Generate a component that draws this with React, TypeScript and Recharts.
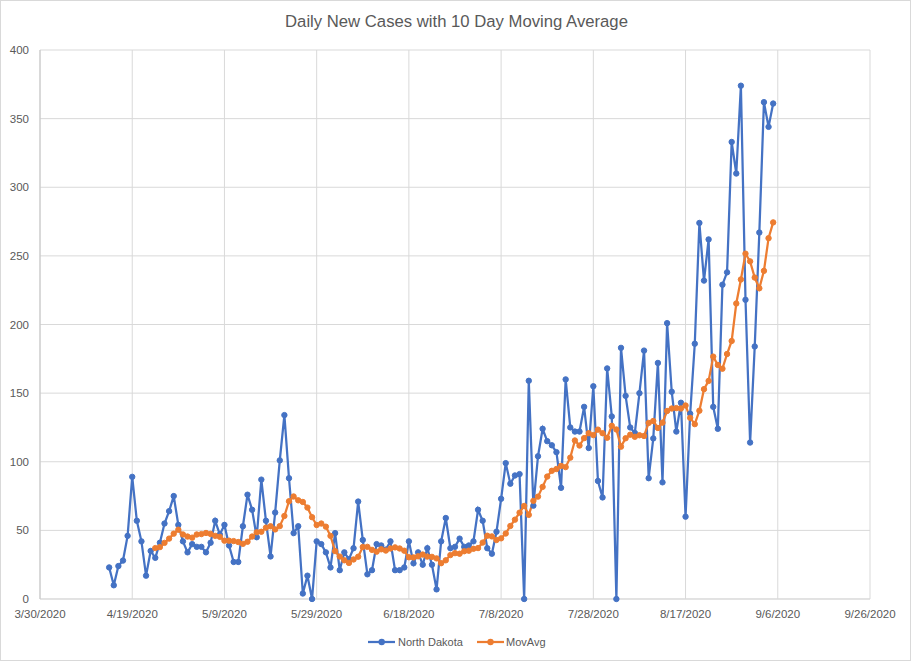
import React from 'react';
import { LineChart, Line, XAxis, YAxis, CartesianGrid } from 'recharts';

const chartTitle = 'Daily New Cases with 10 Day Moving Average';
const seriesNames = ['North Dakota', 'MovAvg'];
const firstDate = '4/14/2020';
const movAvgFirstDate = '4/24/2020';
const xTickLabels = ['3/30/2020', '4/19/2020', '5/9/2020', '5/29/2020', '6/18/2020', '7/8/2020', '7/28/2020', '8/17/2020', '9/6/2020', '9/26/2020'];
const yTicks = [0, 50, 100, 150, 200, 250, 300, 350, 400];

const northDakota = [
  23, 10, 24, 28, 46, 89, 57, 42, 17, 35,
  30, 41, 55, 64, 75, 54, 42, 34, 40, 38,
  38, 34, 41, 57, 47, 54, 39, 27, 27, 53,
  76, 65, 45, 87, 57, 31, 63, 101, 134, 88,
  48, 53, 4, 17, 0, 42, 40, 34, 23, 48,
  21, 34, 29, 37, 71, 43, 18, 21, 40, 39,
  36, 42, 21, 21, 23, 42, 26, 34, 25, 37,
  25, 7, 42, 59, 37, 38, 44, 38, 39, 42,
  65, 57, 37, 33, 49, 73, 99, 84, 90, 91,
  0, 159, 68, 104, 124, 115, 112, 107, 81, 160,
  125, 122, 122, 140, 110, 155, 86, 74, 168, 133,
  0, 183, 148, 125, 121, 150, 181, 88, 117, 172,
  85, 201, 151, 122, 143, 60, 135, 186, 274, 232,
  262, 140, 124, 229, 238, 333, 310, 374, 218, 114,
  184, 267, 362, 344, 361,
];

const movAvg = [
  37.1, 37.8, 40.9, 44.0, 47.6, 50.5, 47.0, 45.5, 44.7, 47.0,
  47.3, 48.1, 47.4, 46.0, 45.3, 42.5, 42.5, 42.2, 41.5, 40.2,
  41.7, 45.5, 48.6, 49.0, 52.0, 53.0, 50.7, 53.1, 60.5, 71.2,
  74.7, 71.9, 70.7, 66.6, 59.6, 53.9, 55.0, 52.7, 46.0, 34.9,
  30.9, 28.2, 26.3, 28.8, 30.8, 37.9, 38.0, 35.8, 34.5, 36.2,
  35.3, 36.8, 37.6, 36.8, 35.2, 30.4, 30.3, 31.1, 32.4, 30.9,
  30.7, 29.6, 26.1, 28.2, 32.0, 33.4, 33.0, 34.8, 35.2, 36.6,
  37.1, 41.1, 46.1, 45.6, 43.0, 44.2, 47.7, 53.2, 57.8, 62.9,
  67.8, 61.3, 71.5, 74.6, 81.7, 89.2, 93.4, 94.7, 97.0, 96.1,
  103.0, 115.5, 111.8, 117.2, 120.8, 119.4, 123.4, 120.8, 117.5, 126.2,
  123.5, 111.0, 117.1, 119.7, 118.2, 119.3, 118.8, 128.3, 129.7, 124.6,
  128.5, 137.0, 138.8, 139.1, 138.8, 141.0, 132.0, 127.4, 137.2, 152.9,
  158.9, 176.6, 170.5, 167.8, 178.5, 188.0, 215.3, 232.8, 251.6, 246.0,
  234.2, 226.4, 239.1, 262.9, 274.4,
];

const BLUE = '#4472C4';
const ORANGE = '#ED7D31';
const GRID = '#d9d9d9';
const TEXT = '#595959';
const FONT = '"Liberation Sans", Arial, sans-serif';
const DAY = 86400000;

const parseDate = (s: string) => {
  const [m, d, y] = s.split('/').map(Number);
  return Date.UTC(y, m - 1, d);
};
const fmtDate = (t: number) => {
  const dt = new Date(t);
  return `${dt.getUTCMonth() + 1}/${dt.getUTCDate()}/${dt.getUTCFullYear()}`;
};

const xTicks = xTickLabels.map(parseDate);
const t0 = parseDate(firstDate);
const tMa = parseDate(movAvgFirstDate);

const data = northDakota.map((v, i) => {
  const t = t0 + i * DAY;
  const j = Math.round((t - tMa) / DAY);
  return { t, nd: v, ma: j >= 0 && j < movAvg.length ? movAvg[j] : null };
});

export default function App() {
  return (
    <div
      style={{
        position: 'fixed',
        left: 0,
        top: 0,
        width: 911,
        height: 661,
        boxSizing: 'border-box',
        border: '1px solid #d9d9d9',
        background: '#fff',
        fontFamily: FONT,
      }}
    >
      <div
        style={{
          position: 'absolute',
          top: 10,
          left: 0,
          width: 911,
          textAlign: 'center',
          fontSize: 16.7,
          lineHeight: '22px',
          color: TEXT,
        }}
      >
        {chartTitle}
      </div>
      <div style={{ position: 'absolute', left: -1, top: -1 }}>
        <LineChart width={911} height={661} data={data} margin={{ top: 50, right: 41, left: 0, bottom: 32 }}>
          <CartesianGrid stroke={GRID} strokeWidth={1} />
          <XAxis
            dataKey="t"
            type="number"
            domain={[xTicks[0], xTicks[xTicks.length - 1]]}
            ticks={xTicks}
            interval={0}
            tickFormatter={fmtDate}
            axisLine={{ stroke: GRID }}
            tickLine={false}
            tickMargin={4.5}
            height={30}
            tick={{ fill: TEXT, fontSize: 11.5, fontFamily: FONT }}
            allowDataOverflow
          />
          <YAxis
            type="number"
            domain={[0, 400]}
            ticks={yTicks}
            interval={0}
            axisLine={{ stroke: '#c6c6c6' }}
            tickLine={false}
            tickMargin={5}
            width={40}
            tick={{ fill: TEXT, fontSize: 11.5, fontFamily: FONT }}
          />
          <Line
            type="linear"
            dataKey="nd"
            name={seriesNames[0]}
            stroke={BLUE}
            strokeWidth={2.25}
            dot={{ r: 2.7, fill: BLUE, stroke: BLUE, strokeWidth: 1 }}
            activeDot={false}
            isAnimationActive={false}
          />
          <Line
            type="linear"
            dataKey="ma"
            name={seriesNames[1]}
            stroke={ORANGE}
            strokeWidth={2.25}
            dot={{ r: 2.7, fill: ORANGE, stroke: ORANGE, strokeWidth: 1 }}
            activeDot={false}
            connectNulls={false}
            isAnimationActive={false}
          />
        </LineChart>
      </div>
      <svg style={{ position: 'absolute', left: -1, top: 630 }} width={911} height={24}>
        <line x1={368} y1={11} x2={395} y2={11} stroke={BLUE} strokeWidth={2.25} />
        <circle cx={381.7} cy={11} r={3.2} fill={BLUE} />
        <text x={398} y={15} fontSize={11} fill={TEXT} fontFamily={FONT}>
          {seriesNames[0]}
        </text>
        <line x1={477} y1={11} x2={504} y2={11} stroke={ORANGE} strokeWidth={2.25} />
        <circle cx={490.5} cy={11} r={3.2} fill={ORANGE} />
        <text x={506} y={15} fontSize={11} fill={TEXT} fontFamily={FONT}>
          {seriesNames[1]}
        </text>
      </svg>
    </div>
  );
}
